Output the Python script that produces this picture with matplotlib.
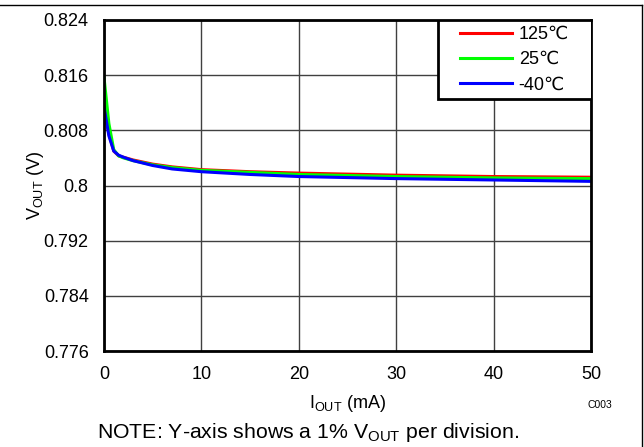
import matplotlib
matplotlib.use("Agg")
import matplotlib.pyplot as plt
from matplotlib.lines import Line2D
from matplotlib.patches import Rectangle

plt.rcParams["font.family"] = ["Liberation Sans", "DejaVu Sans"]

# load current (mA) and output voltage (V)
i_out = [0, 0.5, 1, 1.5, 2, 3, 5, 7, 10, 15, 20, 30, 40, 50]
v_125 = [0.8117, 0.8075, 0.8050, 0.8043, 0.8041, 0.8037, 0.8031, 0.8027,
         0.8023, 0.8020, 0.8018, 0.8015, 0.8013, 0.8012]
v_25 = [0.8157, 0.8090, 0.8052, 0.8043, 0.8040, 0.8036, 0.8030, 0.8026,
        0.8022, 0.8019, 0.8016, 0.8013, 0.8011, 0.8010]
v_m40 = [0.8114, 0.8072, 0.8050, 0.8044, 0.8041, 0.8036, 0.8029, 0.8024,
         0.8020, 0.8016, 0.8013, 0.8010, 0.8008, 0.8006]

x_ticks = [0, 10, 20, 30, 40, 50]
y_ticks = [0.776, 0.784, 0.792, 0.8, 0.808, 0.816, 0.824]
y_labels = ["0.776", "0.784", "0.792", "0.8", "0.808", "0.816", "0.824"]

W, H = 644, 447
fig = plt.figure(figsize=(W / 100, H / 100), dpi=100)
ax = fig.add_axes([104 / W, 1 - 351 / H, 487 / W, 331 / H])

ax.plot(i_out, v_125, color="#ff0000", lw=2.2, label="125\u2103")
ax.plot(i_out, v_25, color="#00ff00", lw=2.2, label="25\u2103")
ax.plot(i_out, v_m40, color="#0000ff", lw=2.2, label="-40\u2103")

ax.set_xlim(0, 50)
ax.set_ylim(0.776, 0.824)
ax.set_xticks(x_ticks)
ax.set_yticks(y_ticks)
ax.set_yticklabels(y_labels)
ax.tick_params(length=0, labelsize=13, pad=11)
ax.grid(True, color="#404040", lw=1)
for s in ax.spines.values():
    s.set_linewidth(2)

ax.set_xlabel(r"I$_{\mathregular{OUT}}$ (mA)", fontsize=13)
ax.xaxis.set_label_coords(0.5, -(404 - 351) / 331)
ax.xaxis.label.set_va("center")
ax.set_ylabel(r"V$_{\mathregular{OUT}}$ (V)", fontsize=13)
ax.yaxis.set_label_coords(-(104 - 36) / 487, 0.5)
ax.yaxis.label.set_va("center")

# legend box drawn by hand, entries placed inside it
ax.add_patch(Rectangle((438 / W, 1 - 99 / H), 154 / W, 79 / H,
                       transform=fig.transFigure, facecolor="white",
                       edgecolor="black", lw=2, zorder=5))
leg = ax.legend(loc="upper left", bbox_to_anchor=(460 / W, 1 - 26 / H),
                bbox_transform=fig.transFigure, fontsize=13, frameon=False,
                borderaxespad=0, borderpad=0, handlelength=2.9,
                handletextpad=0.35, labelspacing=0.45)
leg.set_zorder(6)

fig.text(600 / W, 1 - 405 / H, "C003", fontsize=7.5, ha="center", va="center")
fig.text(97 / W, 1 - 438 / H,
         r"NOTE: Y-axis shows a 1% V$_{\mathregular{OUT}}$ per division.",
         fontsize=15.3, ha="left", va="baseline")

# frame lines at top and right of the picture
fig.add_artist(Line2D([0, 642 / W], [1 - 5 / H, 1 - 5 / H], color="black", lw=1))
fig.add_artist(Line2D([642 / W, 642 / W], [0, 1 - 5 / H], color="black", lw=1))

fig.savefig("out.png", dpi=100)
